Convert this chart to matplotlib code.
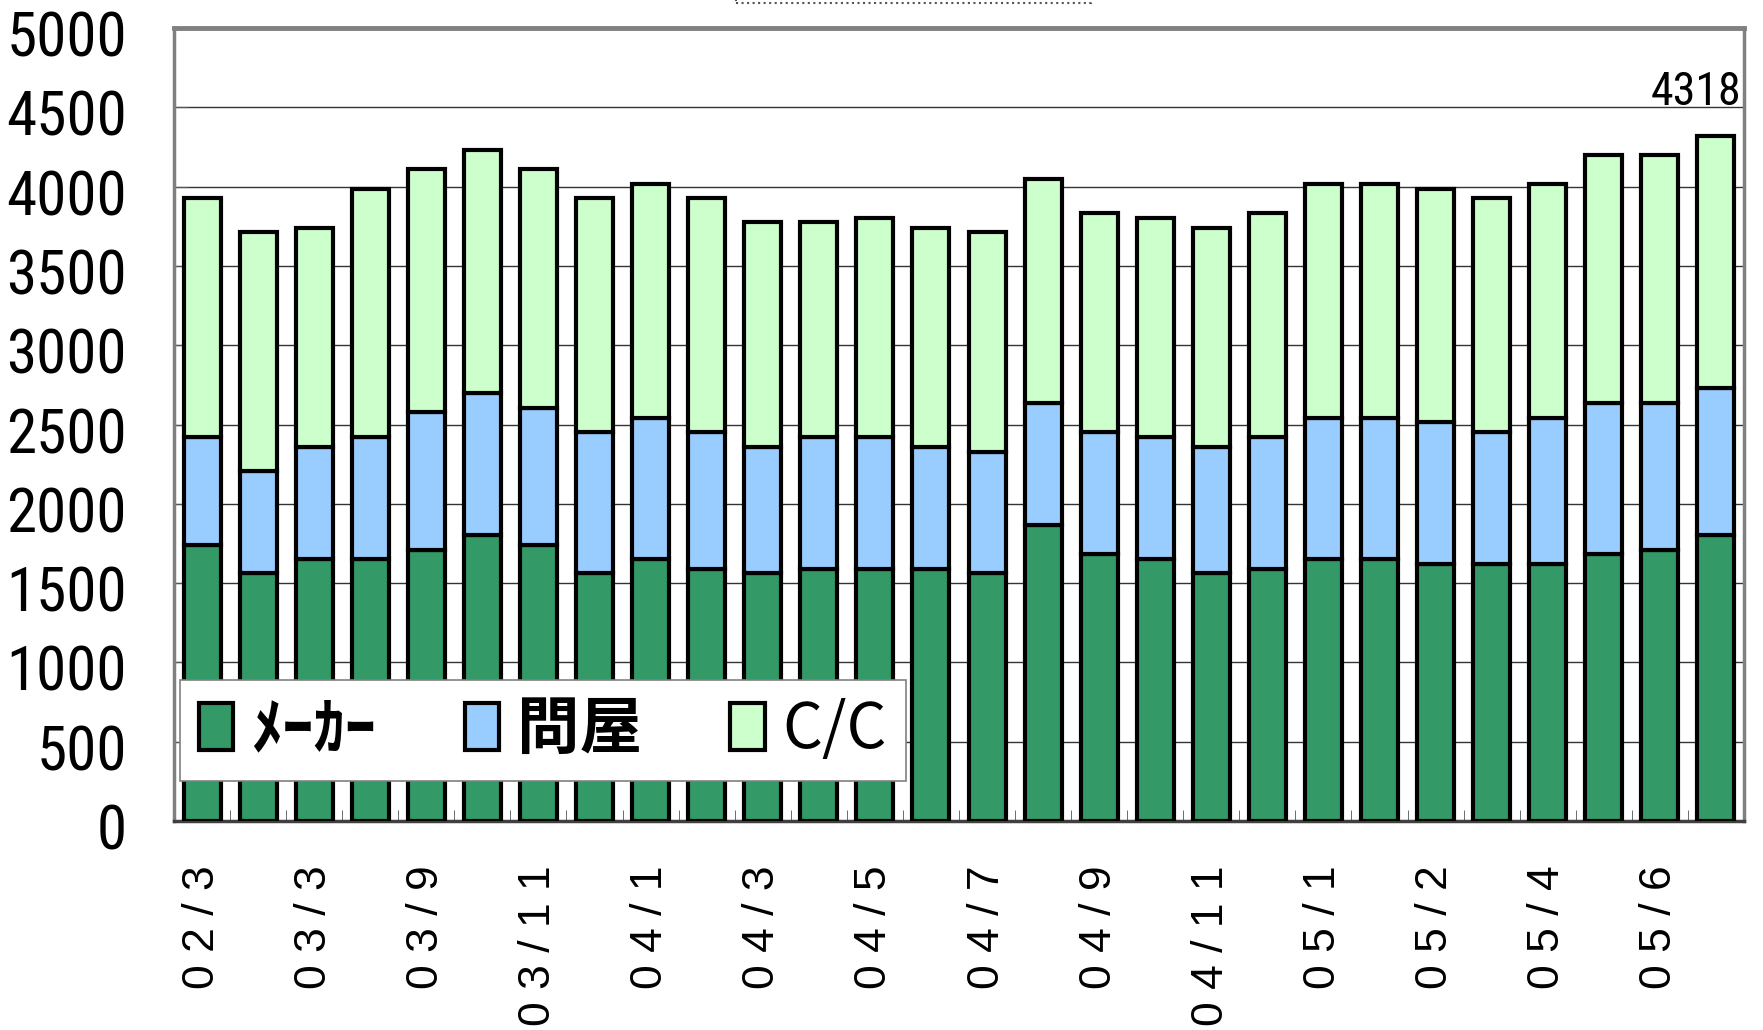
import matplotlib
matplotlib.use('Agg')
import matplotlib.pyplot as plt
from matplotlib import font_manager
from matplotlib.font_manager import FontProperties
from matplotlib.patches import Rectangle
from matplotlib.transforms import ScaledTranslation

# monthly totals, stacked: maker / wholesale / C/C
months = ['02/3', '', '03/3', '', '03/9', '', '03/11', '', '04/1', '', '04/3', '', '04/5', '',
          '04/7', '', '04/9', '', '04/11', '', '05/1', '', '05/2', '', '05/4', '', '05/6', '']
maker = [1742, 1561, 1649, 1649, 1711, 1802, 1742, 1561, 1649, 1590, 1561, 1590, 1590, 1590,
         1561, 1864, 1683, 1649, 1561, 1590, 1649, 1649, 1619, 1619, 1619, 1683, 1711, 1802]
wholesale = [680, 645, 711, 773, 865, 896, 863, 892, 895, 863, 799, 832, 832, 770,
             768, 773, 770, 773, 799, 832, 895, 895, 896, 834, 925, 954, 926, 927]
cc = [1504, 1506, 1382, 1563, 1532, 1534, 1503, 1473, 1473, 1473, 1414, 1352, 1379, 1382,
      1383, 1411, 1380, 1381, 1382, 1411, 1473, 1473, 1470, 1473, 1473, 1564, 1564, 1589]
series_names = ['ﾒｰｶｰ', '問屋', 'C/C']
colors = ['#339966', '#99CCFF', '#CCFFCC']


def find_narrow_font():
    # look for a condensed sans for the numbers, like Arial Narrow in the original
    prefs = ['liberation sans narrow', 'roboto condensed', 'open sans condensed', 'dejavu sans condensed',
             'noto sans condensed']
    found = {}
    for f in font_manager.fontManager.ttflist:
        path = f.fname.lower()
        key = (f.name + ' ' + path).lower()
        if 'bold' in path or 'italic' in path or 'oblique' in path or 'light' in path \
                or 'thin' in path or 'medium' in path or 'black' in path or 'semi' in path:
            continue
        for p in prefs:
            if p in key or p.replace(' ', '') in key.replace(' ', '').replace('-', ''):
                found.setdefault(p, f.fname)
    for p in prefs:
        if p in found:
            return found[p]
    return None


narrow_path = find_narrow_font()
if narrow_path:
    tick_font = FontProperties(fname=narrow_path, size=44)
    value_font = FontProperties(fname=narrow_path, size=33)
else:
    tick_font = FontProperties(family='Liberation Sans', size=36)
    value_font = FontProperties(family='Liberation Sans', size=27)

fig = plt.figure(figsize=(17.63, 10.30), dpi=100)
ax = fig.add_axes([0.0987, 0.2029, 0.8905, 0.7699])

x = list(range(len(maker)))
bottom2 = maker
bottom3 = [a + b for a, b in zip(maker, wholesale)]
totals = [a + b for a, b in zip(bottom3, cc)]
bw = 0.66
ax.bar(x, maker, bw, color=colors[0], edgecolor='black', linewidth=3, label=series_names[0], zorder=3)
ax.bar(x, wholesale, bw, bottom=bottom2, color=colors[1], edgecolor='black', linewidth=3,
       label=series_names[1], zorder=3)
ax.bar(x, cc, bw, bottom=bottom3, color=colors[2], edgecolor='black', linewidth=3,
       label=series_names[2], zorder=3)

ax.set_xlim(-0.5, len(x) - 0.5)
ax.set_ylim(0, 5000)
ax.set_yticks(range(0, 5001, 500))
ax.yaxis.grid(True, color='#333333', linewidth=1.0, zorder=0)
ax.set_axisbelow(True)

ax.set_xticks(x[::2])
ax.set_xticklabels([' '.join(m) for m in months[::2]], rotation=90,
                   fontsize=32, family='Liberation Sans')
ax.set_xticks([i + 0.5 for i in x[:-1]], minor=True)
ax.tick_params(axis='x', which='major', length=0, pad=32)
ax.tick_params(axis='x', which='minor', direction='in', length=8, color='#555555')
ax.tick_params(axis='y', direction='in', length=10, color='#555555', pad=34)
shift = ScaledTranslation(0, -4 / 72, fig.dpi_scale_trans)
for lab in ax.get_yticklabels():
    lab.set_fontproperties(tick_font)
    lab.set_transform(lab.get_transform() + shift)

for side in ['top', 'left', 'right']:
    ax.spines[side].set_color('#808080')
    ax.spines[side].set_linewidth(2.5)
ax.spines['top'].set_linewidth(3.5)
ax.spines['bottom'].set_color('#404040')
ax.spines['bottom'].set_linewidth(2.5)

ax.annotate(str(totals[-1]), xy=(0.998, totals[-1]), xycoords=('axes fraction', 'data'),
            xytext=(0, 16), textcoords='offset points', ha='right', va='bottom',
            fontproperties=value_font)

leg = ax.legend(loc='lower left', bbox_to_anchor=(0.004, 0.0504, 0.462, 0.128), mode='expand',
                ncol=3, borderaxespad=0, fancybox=False, framealpha=1, edgecolor='#808080',
                prop={'family': ['Noto Sans CJK JP', 'DejaVu Sans'], 'size': 45, 'weight': 'bold'},
                handlelength=0.55, handleheight=0.76, handletextpad=0.28, columnspacing=1.5,
                borderpad=0.3)
leg.get_frame().set_linewidth(1.2)
leg.get_texts()[2].set_weight('normal')
leg.set_zorder(5)

# cut-off title box at the top edge
fig.patches.append(Rectangle((736 / 1763, 1 - 3 / 1030), 355 / 1763, 0.1, transform=fig.transFigure,
                             fill=False, linestyle=':', edgecolor='#555555', linewidth=1.5))

fig.savefig('out.png', dpi=100)
